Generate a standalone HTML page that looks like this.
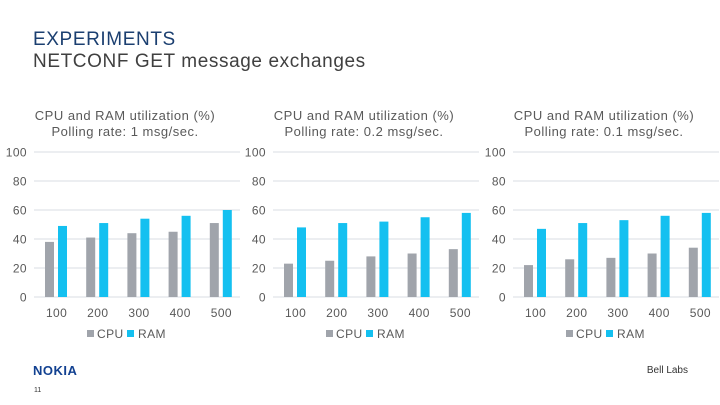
<!DOCTYPE html>
<html><head><meta charset="utf-8"><style>
html,body{margin:0;padding:0;background:#fff;}
svg{display:block;font-family:"Liberation Sans",sans-serif;}
</style></head><body>
<svg id="s" width="720" height="405" viewBox="0 0 720 405">
<text x="33" y="45" font-size="19" fill="#1b3f70" letter-spacing="0.6">EXPERIMENTS</text>
<text x="33" y="67" font-size="19" fill="#404040" letter-spacing="0.6">NETCONF GET message exchanges</text>
<text x="33" y="375" font-size="13" font-weight="bold" fill="#124191" letter-spacing="0.5">NOKIA</text>
<text x="34" y="392" font-size="7" fill="#333">11</text>
<text x="688" y="373" font-size="10" fill="#333" text-anchor="end">Bell Labs</text>
<g id="charts"></g>
</svg>
<script>
const categories = ["100","200","300","400","500"];
const yTicks = [0,20,40,60,80,100];
const titles = ["Polling rate:  1 msg/sec.","Polling rate:  0.2 msg/sec.","Polling rate:  0.1 msg/sec."];
const cpu1 = [38,41,44,45,51];
const ram1 = [49,51,54,56,60];
const cpu2 = [23,25,28,30,33];
const ram2 = [48,51,52,55,58];
const cpu3 = [22,26,27,30,34];
const ram3 = [47,51,53,56,58];
const seriesCpu = [cpu1,cpu2,cpu3];
const seriesRam = [ram1,ram2,ram3];
const NS="http://www.w3.org/2000/svg";
const root=document.getElementById('charts');
function mk(tag,attrs,parent,text){const e=document.createElementNS(NS,tag);for(const k in attrs)e.setAttribute(k,attrs[k]);if(text!==undefined)e.textContent=text;parent.appendChild(e);return e;}
const offsets=[34,273,513];
const y0=297,y1=152;
function yScale(v){return y0-(v/100)*(y0-y1);}
for(let c=0;c<3;c++){
  const L=offsets[c], W=206, band=W/categories.length;
  const g=mk('g',{},root);
  
  
  const t1=mk('text',{x:L+91,y:120,'font-size':13,fill:'#595959','text-anchor':'middle','letter-spacing':0.5},g,'CPU and RAM utilization (%)');
  
  
  const t2=mk('text',{x:L+91,y:136,'font-size':13,fill:'#595959','text-anchor':'middle','letter-spacing':0.5},g,titles[c]);
  
  
  yTicks.forEach(v=>{
    const y=yScale(v);
    const ln=mk('line',{x1:L,x2:L+W,y1:y,y2:y,stroke:'#d9dde3','stroke-width':1},g);
    
    
    const tx=mk('text',{x:L-7,y:y+4.5,'font-size':12,fill:'#595959','text-anchor':'end','letter-spacing':0.4},g,String(v));
    
    
  });
  categories.forEach((cat,i)=>{
    const bx=L+band*i;
    const cv=seriesCpu[c][i], rv=seriesRam[c][i];
    const b1=mk('rect',{x:bx+11,y:yScale(cv),width:9,height:y0-yScale(cv),fill:'#a0a4ab'},g);
    
    
    const b2=mk('rect',{x:bx+24,y:yScale(rv),width:9,height:y0-yScale(rv),fill:'#14c0f0'},g);
    
    
    const tl=mk('text',{x:bx+band/2+2,y:317,'font-size':12,fill:'#595959','text-anchor':'middle','letter-spacing':0.4},g,cat);
    
    
  });
  const lx=L+53;
  const s1=mk('rect',{x:lx,y:330,width:7,height:7,fill:'#a0a4ab'},g);
  
  
  const l1=mk('text',{x:lx+10,y:338,'font-size':12,fill:'#595959','letter-spacing':0.4},g,'CPU');
  
  
  const s2=mk('rect',{x:lx+40,y:330,width:7,height:7,fill:'#14c0f0'},g);
  
  
  const l2=mk('text',{x:lx+51,y:338,'font-size':12,fill:'#595959','letter-spacing':0.4},g,'RAM');
  
  
}
</script>
</body></html>
